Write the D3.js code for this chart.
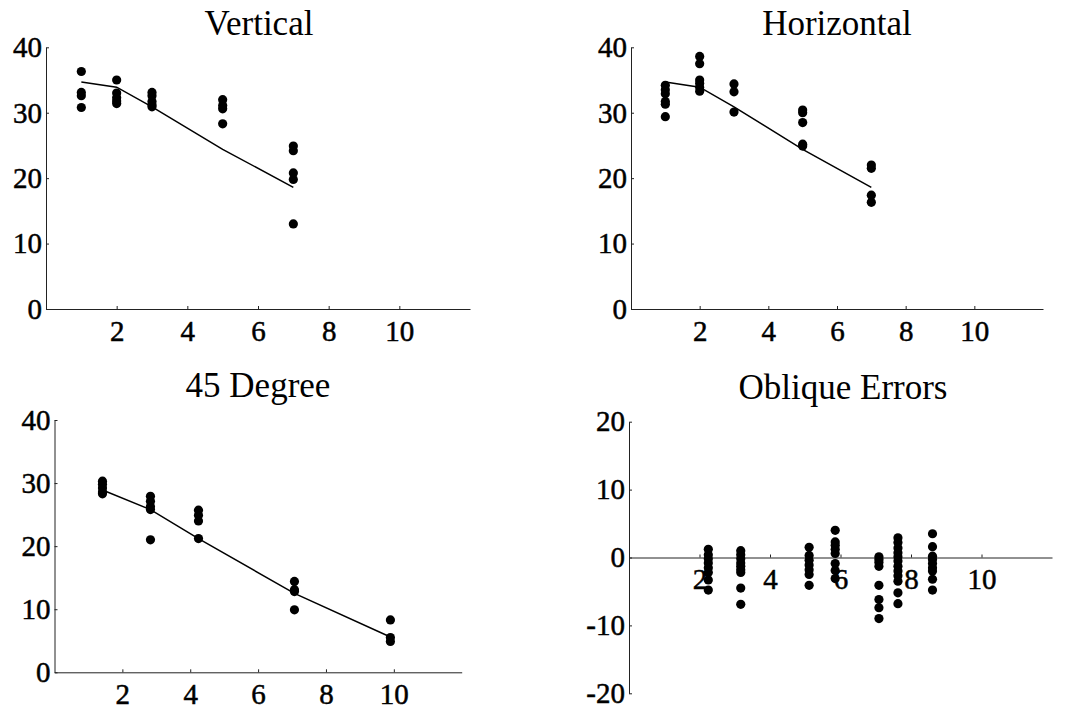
<!DOCTYPE html>
<html>
<head>
<meta charset="utf-8">
<script src="https://cdn.jsdelivr.net/npm/d3@7"></script>
<style>
  body { margin: 0; background: #fff; }
  svg { display: block; }
</style>
</head>
<body>
<svg id="chart" width="1067" height="710"></svg>
<script>
// x positions of the measurement groups
const groupX = [1, 2, 3, 5, 7];
const diagX = [1.414, 2.828, 4.243, 7.071, 9.899];
const obliqueX = [2.25, 3.17, 5.11, 5.85, 7.09, 7.63, 8.61];

// observed values per group
const verticalY = [
  [36.3, 33.1, 32.6, 30.8],
  [35.0, 33.0, 32.3, 31.8, 31.4],
  [33.1, 32.6, 31.7, 31.2, 30.9],
  [32.0, 31.1, 30.6, 28.3],
  [24.9, 24.2, 20.8, 19.8, 13.0]
];
const horizontalY = [
  [34.2, 33.5, 32.9, 31.7, 31.3, 29.4],
  [38.6, 37.5, 35.0, 34.5, 33.9, 33.3],
  [34.4, 33.2, 30.1],
  [30.4, 30.0, 28.5, 25.2, 24.9],
  [22.0, 21.5, 17.4, 16.3]
];
const diagY = [
  [30.3, 29.8, 29.2, 28.6, 28.3],
  [27.9, 27.1, 26.3, 25.8, 21.0],
  [25.7, 24.9, 24.0, 21.2],
  [14.4, 13.1, 12.8, 9.9],
  [8.3, 5.5, 4.9]
];
const obliqueY = [
  [1.2, 0.4, -0.2, -0.8, -1.5, -2.2, -3.3, -4.8],
  [1.0, 0.4, -0.2, -0.8, -1.3, -1.8, -2.2, -4.5, -6.9],
  [1.5, 0.3, -0.4, -1.1, -1.8, -2.5, -4.1],
  [4.0, 2.3, 1.8, 1.2, 0.6, -0.9, -1.9, -3.1],
  [0.1, -0.3, -0.7, -1.3, -4.1, -6.2, -7.4, -9.0],
  [2.9, 2.2, 1.4, 0.7, 0.1, -0.5, -1.3, -2.0, -2.7, -3.5, -5.2, -6.8],
  [3.5, 1.6, 0.2, -0.3, -0.9, -1.5, -2.0, -3.2, -4.8]
];

// fitted lines
const fitY = [34.7, 33.9, 30.9, 24.4, 18.6];
const diagFitY = [28.9, 25.8, 21.2, 12.5, 5.6];

const xTicks = [2, 4, 6, 8, 10];
const yTicks = [0, 10, 20, 30, 40];
const errTicks = [-20, -10, 0, 10, 20];

const serif = "Liberation Serif";
const svg = d3.select("#chart");

function styleAxis(sel) {
  sel.attr("font-family", serif).attr("font-size", 29);
  sel.select(".domain").attr("stroke", "#222").attr("stroke-width", 1);
  sel.selectAll(".tick line").attr("stroke", "#222");
  sel.selectAll(".tick text")
    .attr("fill", "#000")
    .attr("stroke", "#000")
    .attr("stroke-width", 0.5);
}

function panel(opt) {
  const g = svg.append("g");
  const x = d3.scaleLinear().domain([0, 12]).range([opt.left, opt.right]);
  const y = d3.scaleLinear().domain(opt.yDomain).range([opt.bottom, opt.top]);
  const fmt = (d) => String(d);

  // x axis sits on y = 0
  g.append("g")
    .attr("transform", `translate(0,${y(0)})`)
    .call(d3.axisBottom(x).tickValues(xTicks).tickFormat(fmt)
      .tickSizeInner(-3).tickSizeOuter(0).tickPadding(11))
    .call(styleAxis);

  g.append("g")
    .attr("transform", `translate(${x(0)},0)`)
    .call(d3.axisLeft(y).tickValues(opt.yTicks).tickFormat(fmt)
      .tickSizeInner(-3).tickSizeOuter(0).tickPadding(4))
    .call(styleAxis);

  if (opt.fit) {
    const line = d3.line().x((d) => x(d[0])).y((d) => y(d[1]));
    g.append("path")
      .datum(opt.xs.map((v, i) => [v, opt.fit[i]]))
      .attr("fill", "none")
      .attr("stroke", "#000")
      .attr("stroke-width", 1.5)
      .attr("d", line);
  }

  const pts = opt.ys.flatMap((col, i) => col.map((v) => [opt.xs[i], v]));
  g.append("g")
    .selectAll("circle")
    .data(pts)
    .join("circle")
    .attr("cx", (d) => x(d[0]))
    .attr("cy", (d) => y(d[1]))
    .attr("r", 4.6)
    .attr("fill", "#000");

  g.append("text")
    .attr("x", opt.titleX)
    .attr("y", opt.titleY)
    .attr("text-anchor", "middle")
    .attr("font-family", serif)
    .attr("font-size", 35)
    .text(opt.title);
}

panel({ title: "Vertical", left: 46, right: 470, top: 47.3, bottom: 309, titleX: 259, titleY: 35,
  yDomain: [0, 40], yTicks: yTicks, xs: groupX, ys: verticalY, fit: fitY });
panel({ title: "Horizontal", left: 631, right: 1043, top: 47.3, bottom: 309, titleX: 837, titleY: 35,
  yDomain: [0, 40], yTicks: yTicks, xs: groupX, ys: horizontalY, fit: fitY });
panel({ title: "45 Degree", left: 54.5, right: 461.7, top: 420, bottom: 672.3, titleX: 258, titleY: 397,
  yDomain: [0, 40], yTicks: yTicks, xs: diagX, ys: diagY, fit: diagFitY });
panel({ title: "Oblique Errors", left: 629, right: 1052, top: 421.7, bottom: 693.3, titleX: 843, titleY: 399,
  yDomain: [-20, 20], yTicks: errTicks, xs: obliqueX, ys: obliqueY, fit: null });
</script>
</body>
</html>
